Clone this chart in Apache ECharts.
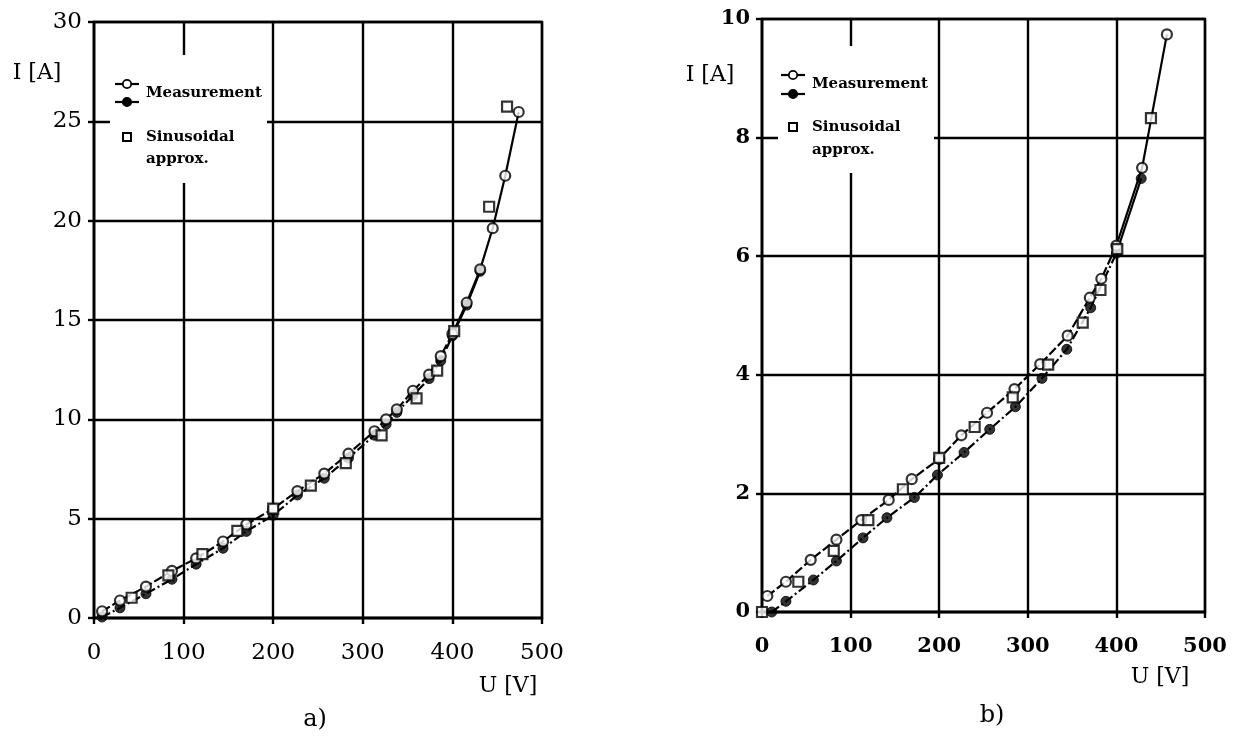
<!DOCTYPE html>
<html>
<head>
<meta charset="utf-8">
<script src="https://cdn.jsdelivr.net/npm/echarts@6/dist/echarts.min.js"></script>
<style>
  html, body { margin: 0; padding: 0; background: #fff; }
  #chart { width: 1241px; height: 737px; }
</style>
</head>
<body>
<div id="chart"></div>
<script>
// ---- Panel a) : I(U) up to 30 A ----
const aOpenU  = [9, 29, 58, 87, 114, 144, 170, 200, 227, 257, 284, 313, 326, 338, 356, 374, 387, 400, 416, 431, 445, 459, 474];
const aOpenI  = [0.34, 0.88, 1.58, 2.37, 3.0, 3.85, 4.71, 5.5, 6.39, 7.27, 8.27, 9.4, 10.0, 10.5, 11.44, 12.25, 13.18, 14.3, 15.87, 17.55, 19.62, 22.26, 25.47];
const aFillU  = [9, 29, 58, 87, 114, 144, 170, 200, 227, 257, 284, 313, 326, 338, 356, 374, 387, 400, 416, 431];
const aFillI  = [0.05, 0.51, 1.22, 1.95, 2.71, 3.51, 4.36, 5.17, 6.19, 7.03, 8.05, 9.2, 9.75, 10.35, 11.2, 12.05, 12.95, 14.2, 15.75, 17.45];
const aSinU   = [42, 83, 121, 160, 200, 242, 281, 321, 360, 383, 402, 441, 461];
const aSinI   = [1.02, 2.15, 3.22, 4.39, 5.51, 6.66, 7.8, 9.19, 11.05, 12.45, 14.44, 20.7, 25.74];

// ---- Panel b) : I(U) up to 10 A ----
const bOpenU  = [6, 27, 55, 84, 112, 143, 169, 200, 225, 254, 285, 314, 345, 370, 383, 400, 429, 457];
const bOpenI  = [0.27, 0.51, 0.88, 1.22, 1.55, 1.89, 2.24, 2.58, 2.98, 3.36, 3.76, 4.18, 4.66, 5.3, 5.62, 6.18, 7.49, 9.74];
const bFillU  = [11, 27, 58, 84, 114, 141, 172, 198, 228, 257, 286, 316, 344, 371, 400, 428];
const bFillI  = [0.0, 0.18, 0.54, 0.86, 1.25, 1.59, 1.93, 2.31, 2.69, 3.08, 3.46, 3.94, 4.43, 5.13, 6.05, 7.31];
const bSinU   = [0, 41, 81, 120, 159, 200, 240, 283, 323, 362, 382, 401, 439];
const bSinI   = [0.0, 0.51, 1.03, 1.55, 2.07, 2.6, 3.12, 3.62, 4.17, 4.88, 5.43, 6.12, 8.33];

// axis ticks
const xTicks = [0, 100, 200, 300, 400, 500];
const aYTicks = [0, 5, 10, 15, 20, 25, 30];
const bYTicks = [0, 2, 4, 6, 8, 10];

const SERIF = '"DejaVu Serif", "Liberation Serif", serif';
const BLACK = '#000';
const KNEE = 400; // above this voltage the curves are drawn solid

function pairs(us, is) { return us.map((u, k) => [u, is[k]]); }
function lower(p) { return p.filter(d => d[0] <= KNEE); }
function upper(p) { return p.filter(d => d[0] >= KNEE); }

function measurement(idx, us, is, filled, dash) {
  const p = pairs(us, is);
  const sym = {
    symbol: 'circle', symbolSize: 10,
    itemStyle: filled ? { color: BLACK, borderColor: BLACK, borderWidth: 1 }
                      : { color: '#fff', borderColor: BLACK, borderWidth: 2.2 }
  };
  return [
    { type: 'line', xAxisIndex: idx, yAxisIndex: idx, data: lower(p), showSymbol: false,
      lineStyle: { color: BLACK, width: 2.2, type: dash }, z: 2, silent: true },
    { type: 'line', xAxisIndex: idx, yAxisIndex: idx, data: upper(p), showSymbol: false,
      lineStyle: { color: BLACK, width: 2.2, type: 'solid' }, z: 2, silent: true },
    Object.assign({ type: 'scatter', xAxisIndex: idx, yAxisIndex: idx, data: p, z: filled ? 3 : 4 }, sym)
  ];
}

function squares(idx, us, is) {
  return { type: 'scatter', xAxisIndex: idx, yAxisIndex: idx, data: pairs(us, is),
    symbol: 'rect', symbolSize: 10, z: 5,
    itemStyle: { color: '#fff', borderColor: BLACK, borderWidth: 2.2 } };
}

function xAxis(grid, fontSize, weight) {
  return {
    type: 'value', gridIndex: grid, min: 0, max: 500, interval: 100,
    axisLine: { show: true, onZero: false, lineStyle: { color: BLACK, width: 2.4 } },
    axisTick: { show: true, length: 6, lineStyle: { color: BLACK, width: 2.4 } },
    splitLine: { show: true, lineStyle: { color: BLACK, width: 2.4 } },
    axisLabel: { color: BLACK, fontFamily: SERIF, fontSize: fontSize, fontWeight: weight, margin: 24,
      formatter: v => xTicks.includes(v) ? String(v) : '' }
  };
}

function yAxis(grid, max, step, ticks, fontSize, weight) {
  return {
    type: 'value', gridIndex: grid, min: 0, max: max, interval: step,
    axisLine: { show: true, onZero: false, lineStyle: { color: BLACK, width: 2.4 } },
    axisTick: { show: true, length: 6, lineStyle: { color: BLACK, width: 2.4 } },
    splitLine: { show: true, lineStyle: { color: BLACK, width: 2.4 } },
    axisLabel: { color: BLACK, fontFamily: SERIF, fontSize: fontSize, fontWeight: weight, margin: 12,
      formatter: v => ticks.includes(v) ? String(v) : '' }
  };
}

// legend block drawn inside each panel, on a white patch over the grid
function legend(x0, y0, x1, y1, sx, rowOpen, rowFill, rowMeas, rowSq, rowSin, rowApp, tx, fs) {
  const els = [];
  els.push({ type: 'rect', shape: { x: x0, y: y0, width: x1 - x0, height: y1 - y0 },
    style: { fill: '#fff' }, z: 50 });
  [[rowOpen, '#fff'], [rowFill, BLACK]].forEach(([y, fill]) => {
    els.push({ type: 'line', shape: { x1: sx - 12, y1: y, x2: sx + 12, y2: y },
      style: { stroke: BLACK, lineWidth: 2.2 }, z: 51 });
    els.push({ type: 'circle', shape: { cx: sx, cy: y, r: 4.2 },
      style: { fill: fill, stroke: BLACK, lineWidth: 1.8 }, z: 52 });
  });
  els.push({ type: 'rect', shape: { x: sx - 4, y: rowSq - 4, width: 8, height: 8 },
    style: { fill: '#fff', stroke: BLACK, lineWidth: 2 }, z: 52 });
  const t = (text, y) => ({ type: 'text', x: tx, y: y, z: 52,
    style: { text: text, fill: BLACK, font: 'bold ' + fs + 'px ' + SERIF, textVerticalAlign: 'middle', textAlign: 'left' } });
  els.push(t('Measurement', rowMeas), t('Sinusoidal', rowSin), t('approx.', rowApp));
  return els;
}

function label(text, x, y, size, weight) {
  return { type: 'text', x: x, y: y, z: 60,
    style: { text: text, fill: BLACK, font: (weight || 'normal') + ' ' + size + 'px ' + SERIF,
      textAlign: 'center', textVerticalAlign: 'middle' } };
}

const chart = echarts.init(document.getElementById('chart'), null, { renderer: 'canvas' });
chart.setOption({
  backgroundColor: '#fff',
  animation: false,
  grid: [
    { left: 94, top: 22, width: 448, height: 596, show: true, borderColor: BLACK, borderWidth: 2.4, backgroundColor: 'transparent' },
    { left: 762, top: 19, width: 443, height: 593, show: true, borderColor: BLACK, borderWidth: 2.4, backgroundColor: 'transparent' }
  ],
  xAxis: [xAxis(0, 23, 'normal'), xAxis(1, 21, 'bold')],
  yAxis: [yAxis(0, 30, 5, aYTicks, 23, 'normal'), yAxis(1, 10, 2, bYTicks, 21, 'bold')],
  series: [
    ...measurement(0, aFillU, aFillI, true, [9, 3, 2, 3]),
    ...measurement(0, aOpenU, aOpenI, false, [9, 3]),
    squares(0, aSinU, aSinI),
    ...measurement(1, bFillU, bFillI, true, [9, 3, 2, 3]),
    ...measurement(1, bOpenU, bOpenI, false, [9, 3]),
    squares(1, bSinU, bSinI)
  ],
  graphic: [
    ...legend(110, 55, 267, 183, 127, 84, 102, 93, 137, 137, 159, 146, 15),
    ...legend(778, 46, 934, 173, 793, 75, 94, 84, 127, 127, 150, 812, 15),
    label('I [A]', 37, 73, 22),
    label('U [V]', 508, 686, 22),
    label('a)', 315, 720, 24),
    label('I [A]', 710, 75, 22),
    label('U [V]', 1160, 677, 22),
    label('b)', 992, 716, 24)
  ]
});
</script>
</body>
</html>
